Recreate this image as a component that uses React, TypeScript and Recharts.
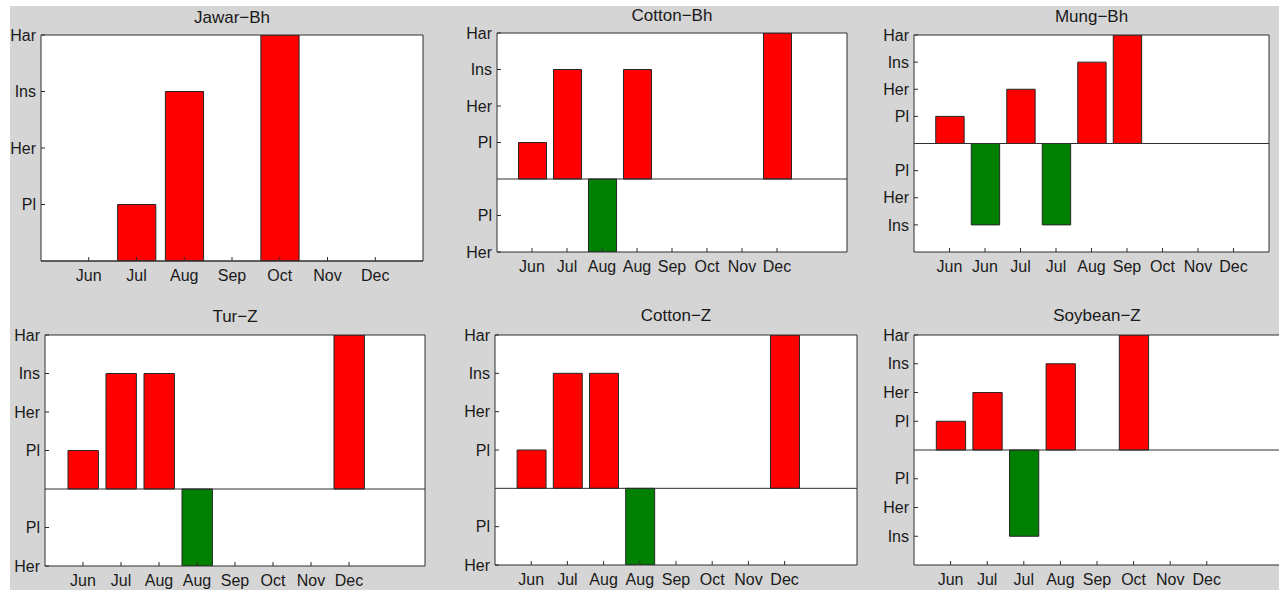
import { BarChart, Bar, XAxis, YAxis, Cell, ReferenceLine } from "recharts";

// Growth stage labels, indexed by |value|: 1 = Pl, 2 = Her, 3 = Ins, 4 = Har
const stageNames = ["", "Pl", "Her", "Ins", "Har"];

const jawarBhMonths = ["Jun", "Jul", "Aug", "Sep", "Oct", "Nov", "Dec"];
const jawarBhStages = [0, 1, 3, 0, 4, 0, 0];
const jawarBhTicks = [1, 2, 3, 4];

const cottonBhMonths = ["Jun", "Jul", "Aug", "Aug", "Sep", "Oct", "Nov", "Dec"];
const cottonBhStages = [1, 3, -2, 3, 0, 0, 0, 4];
const cottonBhTicks = [-2, -1, 1, 2, 3, 4];

const mungBhMonths = ["Jun", "Jun", "Jul", "Jul", "Aug", "Sep", "Oct", "Nov", "Dec"];
const mungBhStages = [1, -3, 2, -3, 3, 4, 0, 0, 0];
const mungBhTicks = [-3, -2, -1, 1, 2, 3, 4];

const turZMonths = ["Jun", "Jul", "Aug", "Aug", "Sep", "Oct", "Nov", "Dec"];
const turZStages = [1, 3, 3, -2, 0, 0, 0, 4];
const turZTicks = [-2, -1, 1, 2, 3, 4];

const cottonZMonths = ["Jun", "Jul", "Aug", "Aug", "Sep", "Oct", "Nov", "Dec"];
const cottonZStages = [1, 3, 3, -2, 0, 0, 0, 4];
const cottonZTicks = [-2, -1, 1, 2, 3, 4];

const soybeanZMonths = ["Jun", "Jul", "Jul", "Aug", "Sep", "Oct", "Nov", "Dec"];
const soybeanZStages = [1, 2, -3, 3, 0, 4, 0, 0];
const soybeanZTicks = [-3, -2, -1, 1, 2, 3, 4];

const AXIS = "#2e2e2e";
const TEXT = "#1a1a1a";
const FONT = "'Liberation Sans', Arial, Helvetica, sans-serif";
const TICK_SIZE = 16;
const TITLE_SIZE = 17;

// axis areas around each plot box
const M = { top: 10, right: 5, bottom: 10, left: 5 };
const AXIS_W = 40;
const AXIS_H = 30;

interface Box {
  left: number;
  top: number;
  right: number;
  bottom: number;
  titleTop: number;
}

interface PanelProps {
  title: string;
  months: string[];
  stages: number[];
  yTicks: number[];
  yMin: number;
  slots: number;
  box: Box;
}

function StagePanel({ title, months, stages, yTicks, yMin, slots, box }: PanelProps) {
  const plotW = box.right - box.left;
  const plotH = box.bottom - box.top;
  const data = months.map((m, i) => ({ slot: i + 1, month: m, stage: stages[i] }));
  const xTicks = months.map((_, i) => i + 1);
  const barSize = (0.8 * plotW) / slots;
  const tickStyle = { fill: TEXT, fontSize: TICK_SIZE, fontFamily: FONT };

  const offLeft = M.left + AXIS_W;
  const offTop = M.top + AXIS_H;

  return (
    <div style={{ position: "absolute", left: box.left - offLeft, top: box.top - offTop }}>
      <BarChart
        width={plotW + offLeft + M.right + 5}
        height={plotH + offTop + M.bottom + AXIS_H}
        data={data}
        margin={M}
      >
        <XAxis
          dataKey="slot"
          type="number"
          domain={[0, slots]}
          allowDataOverflow
          ticks={xTicks}
          interval={0}
          tickFormatter={(v: number) => months[v - 1]}
          height={AXIS_H}
          tickSize={-4}
          tickMargin={13}
          stroke={AXIS}
          tick={tickStyle}
        />
        <XAxis
          xAxisId="top"
          orientation="top"
          type="number"
          domain={[0, slots]}
          allowDataOverflow
          ticks={xTicks}
          interval={0}
          height={AXIS_H}
          tickSize={-4}
          stroke={AXIS}
          tick={false}
          label={{
            value: title,
            position: "insideTop",
            offset: box.titleTop - (box.top - AXIS_H),
            fill: TEXT,
            fontSize: TITLE_SIZE,
            fontFamily: FONT,
          }}
        />
        <YAxis
          type="number"
          domain={[yMin, 4]}
          allowDataOverflow
          ticks={yTicks}
          interval={0}
          width={AXIS_W}
          tickSize={-4}
          tickMargin={9}
          tickFormatter={(v: number) => stageNames[Math.abs(v)]}
          stroke={AXIS}
          tick={tickStyle}
        />
        <YAxis
          yAxisId="right"
          orientation="right"
          type="number"
          domain={[yMin, 4]}
          allowDataOverflow
          ticks={yTicks}
          interval={0}
          width={5}
          tickSize={-4}
          stroke={AXIS}
          tick={false}
        />
        <Bar
          dataKey="stage"
          barSize={barSize}
          stroke="#262626"
          strokeWidth={1}
          isAnimationActive={false}
        >
          {data.map((d) => (
            <Cell key={d.slot} fill={d.stage > 0 ? "#ff0000" : "#008000"} />
          ))}
        </Bar>
        <ReferenceLine y={0} stroke={AXIS} strokeWidth={1} />
      </BarChart>
    </div>
  );
}

const panels: PanelProps[] = [
  {
    title: "Jawar\u2212Bh",
    months: jawarBhMonths,
    stages: jawarBhStages,
    yTicks: jawarBhTicks,
    yMin: 0,
    slots: 8,
    box: { left: 41, top: 35, right: 423, bottom: 261, titleTop: 11 },
  },
  {
    title: "Cotton\u2212Bh",
    months: cottonBhMonths,
    stages: cottonBhStages,
    yTicks: cottonBhTicks,
    yMin: -2,
    slots: 10,
    box: { left: 497, top: 33, right: 847, bottom: 252, titleTop: 9 },
  },
  {
    title: "Mung\u2212Bh",
    months: mungBhMonths,
    stages: mungBhStages,
    yTicks: mungBhTicks,
    yMin: -4,
    slots: 10,
    box: { left: 914, top: 35, right: 1269, bottom: 252, titleTop: 10 },
  },
  {
    title: "Tur\u2212Z",
    months: turZMonths,
    stages: turZStages,
    yTicks: turZTicks,
    yMin: -2,
    slots: 10,
    box: { left: 45, top: 335, right: 425, bottom: 566, titleTop: 310 },
  },
  {
    title: "Cotton\u2212Z",
    months: cottonZMonths,
    stages: cottonZStages,
    yTicks: cottonZTicks,
    yMin: -2,
    slots: 10,
    box: { left: 495, top: 335, right: 857, bottom: 565, titleTop: 309 },
  },
  {
    title: "Soybean\u2212Z",
    months: soybeanZMonths,
    stages: soybeanZStages,
    yTicks: soybeanZTicks,
    yMin: -4,
    slots: 10,
    box: { left: 914, top: 335, right: 1280, bottom: 565, titleTop: 309 },
  },
];

export default function App() {
  return (
    <div
      style={{
        position: "absolute",
        left: 0,
        top: 0,
        width: 1279,
        height: 590,
        overflow: "hidden",
        background: "#ffffff",
      }}
    >
      <div
        style={{
          position: "absolute",
          left: 10,
          top: 6,
          right: 0,
          bottom: 0,
          background: "#d5d5d5",
        }}
      />
      {panels.map((p) => (
        <div key={p.title}>
          <div
            style={{
              position: "absolute",
              left: p.box.left,
              top: p.box.top,
              width: p.box.right - p.box.left,
              height: p.box.bottom - p.box.top,
              background: "#ffffff",
            }}
          />
          <StagePanel {...p} />
        </div>
      ))}
    </div>
  );
}
